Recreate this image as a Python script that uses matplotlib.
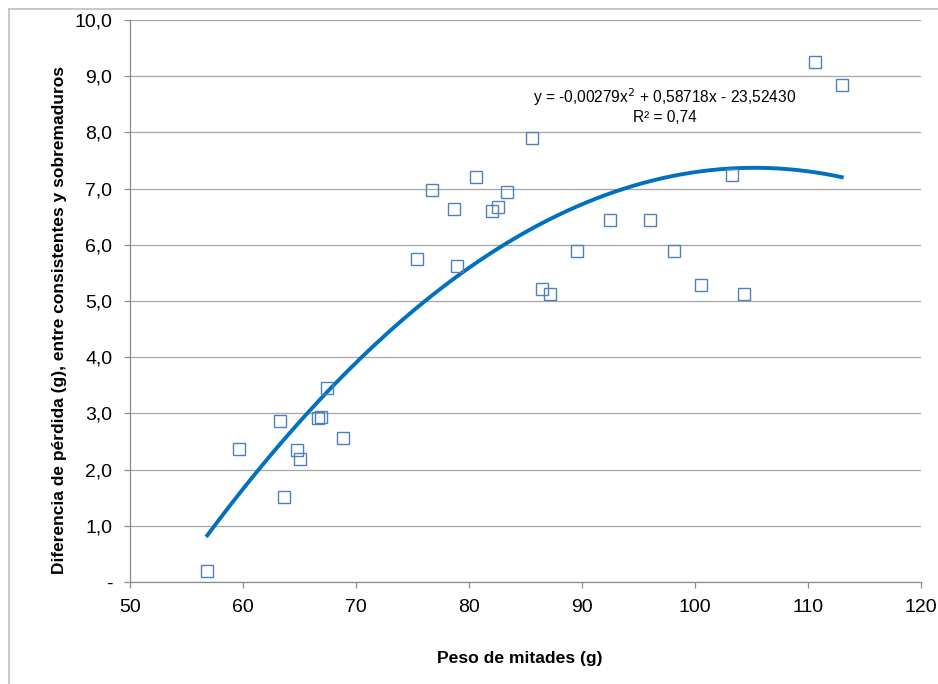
import matplotlib
matplotlib.use("Agg")
import matplotlib.pyplot as plt
import numpy as np
from matplotlib.lines import Line2D
from matplotlib.ticker import FuncFormatter

# datos
peso = [56.81, 59.65, 63.27, 63.60, 64.75, 65.02, 66.58, 66.85, 67.41, 68.80,
        75.37, 76.67, 78.67, 78.88, 80.62, 82.00, 82.57, 83.31, 85.55, 86.43,
        87.12, 89.50, 92.45, 95.99, 98.09, 100.50, 103.25, 104.28, 110.59, 112.96]
diferencia = [0.20, 2.36, 2.86, 1.52, 2.34, 2.18, 2.92, 2.94, 3.46, 2.56,
              5.74, 6.98, 6.64, 5.63, 7.21, 6.60, 6.67, 6.94, 7.90, 5.21,
              5.13, 5.89, 6.44, 6.44, 5.89, 5.29, 7.25, 5.13, 9.25, 8.85]

# coeficientes de la linea de tendencia (polinomica de grado 2)
coef = [-0.00279, 0.58718, -23.52430]
r2 = 0.74

plt.rcParams['font.family'] = ['Liberation Sans', 'DejaVu Sans']

fig = plt.figure(figsize=(9.38, 6.84), dpi=100)
ax = fig.add_axes([0.1389, 0.1491, 0.8433, 0.8217])

xs = np.linspace(min(peso), max(peso), 200)
ax.plot(xs, np.polyval(coef, xs), color="#0070C0", lw=2.8, zorder=2)
ax.plot(peso, diferencia, linestyle="none", marker="s", ms=8.5,
        markerfacecolor="none", markeredgecolor="#4F81BD", mew=1.0, zorder=3)

ax.set_xlim(50, 120)
ax.set_ylim(0, 10)
ax.set_xticks(np.arange(50, 121, 10))
ax.set_yticks(np.arange(0, 10.1, 1))
ax.yaxis.set_major_formatter(FuncFormatter(
    lambda v, p: "-" if v == 0 else ("%.1f" % v).replace(".", ",")))

ax.grid(axis="y", color="#a6a6a6", lw=0.9)
ax.set_axisbelow(True)
for s in ["top", "right"]:
    ax.spines[s].set_visible(False)
for s in ["left", "bottom"]:
    ax.spines[s].set_color("#8c8c8c")
    ax.spines[s].set_linewidth(0.9)
ax.tick_params(axis="both", direction="out", length=4, width=0.9, color="#8c8c8c",
               labelsize=14, labelcolor="black")
ax.tick_params(axis="y", pad=9)
ax.tick_params(axis="x", pad=8)

ax.set_xlabel("Peso de mitades (g)", fontsize=12.6, fontweight="bold")
ax.xaxis.set_label_coords(0.4927, -0.1228)
ax.set_ylabel("Diferencia de pérdida (g), entre consistentes y sobremaduros",
              fontsize=12.5, fontweight="bold")
ax.yaxis.set_label_coords(-0.080, 0.466)

eq = "y = -0,00279x$^2$ + 0,58718x - 23,52430\nR² = %s" % ("%.2f" % r2).replace(".", ",")
ax.text(97.3, 8.48, eq, ha="center", va="center", fontsize=11.2,
        linespacing=1.2)

# borde exterior del area del grafico
fig.add_artist(Line2D([0.0101, 0.0101], [0.0, 0.9868], color="#bfbfbf", lw=1.2))
fig.add_artist(Line2D([0.0101, 1.0], [0.9868, 0.9868], color="#bfbfbf", lw=1.2))

fig.savefig("out.png", dpi=100)
